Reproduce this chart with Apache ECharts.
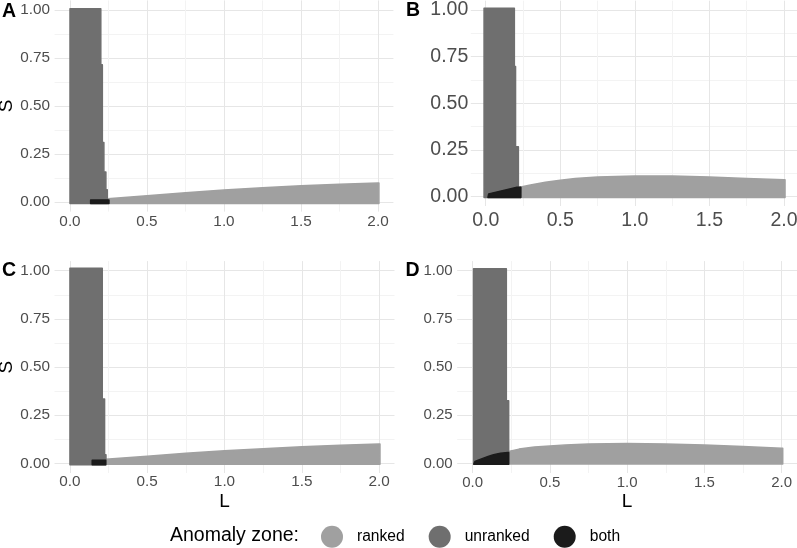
<!DOCTYPE html>
<html>
<head>
<meta charset="utf-8">
<script src="https://cdn.jsdelivr.net/npm/echarts@6/dist/echarts.min.js"></script>
<style>
  html, body { margin: 0; padding: 0; background: #ffffff; }
  #chart { width: 797px; height: 548px; }
</style>
</head>
<body>
<div id="chart"></div>
<script>
// ---- tick values and labels ----
const xTickValues = [0, 0.5, 1, 1.5, 2];
const xTickLabels = ['0.0', '0.5', '1.0', '1.5', '2.0'];
const yTickValues = [0, 0.25, 0.5, 0.75, 1];
const yTickLabels = ['0.00', '0.25', '0.50', '0.75', '1.00'];
const xGridValues = [0, 0.25, 0.5, 0.75, 1, 1.25, 1.5, 1.75, 2];
const yGridValues = [0, 0.125, 0.25, 0.375, 0.5, 0.625, 0.75, 0.875, 1];

const zoneNames = ['ranked', 'unranked', 'both'];
const zoneColors = ['#a0a0a0', '#6f6f6f', '#1b1b1b'];

// ---- zone outlines [L, S] ----
// Panel A
const rankedA = [[0.245,-0.008],[0.245,0.017],[0.5,0.033],[0.75,0.048],[1.0,0.063],[1.25,0.074],[1.5,0.085],[1.75,0.092],[2.0,0.099],[2.006,0.099],[2.006,-0.008]];
const unrankedA = [[0.0,-0.008],[0.0,1.007],[0.20,1.007],[0.20,0.715],[0.21,0.715],[0.21,0.31],[0.22,0.31],[0.22,0.156],[0.233,0.156],[0.233,0.064],[0.242,0.064],[0.242,-0.008]];
const bothA = [[0.134,-0.008],[0.134,0.011],[0.253,0.011],[0.253,-0.008]];
// Panel B
const rankedB = [[0.235,-0.004],[0.235,0.052],[0.3,0.063],[0.4,0.077],[0.5,0.088],[0.6,0.097],[0.75,0.105],[1.0,0.111],[1.25,0.111],[1.5,0.105],[1.75,0.097],[2.0,0.09],[2.007,0.09],[2.007,-0.004]];
const unrankedB = [[-0.011,-0.004],[-0.011,1.009],[0.192,1.009],[0.192,0.697],[0.20,0.697],[0.20,0.268],[0.219,0.268],[0.219,0.05],[0.235,0.05],[0.235,-0.004]];
const bothB = [[0.015,-0.004],[0.02,0.015],[0.21,0.05],[0.235,0.05],[0.235,-0.004]];
// Panel C
const rankedC = [[0.231,-0.005],[0.231,0.022],[0.5,0.037],[0.75,0.052],[1.0,0.065],[1.25,0.076],[1.5,0.086],[1.75,0.094],[2.0,0.1],[2.006,0.1],[2.006,-0.005]];
const unrankedC = [[0.0,-0.007],[0.0,1.013],[0.209,1.013],[0.209,0.334],[0.224,0.334],[0.224,0.045],[0.233,0.045],[0.233,-0.007]];
const bothC = [[0.144,-0.007],[0.144,0.016],[0.231,0.016],[0.231,-0.007]];
// Panel D
const rankedD = [[0.233,-0.003],[0.233,0.062],[0.3,0.074],[0.4,0.085],[0.5,0.09],[0.6,0.096],[0.75,0.101],[1.0,0.103],[1.25,0.101],[1.5,0.095],[1.75,0.087],[2.0,0.078],[2.007,0.078],[2.007,-0.003]];
const unrankedD = [[0.006,-0.004],[0.006,1.01],[0.218,1.01],[0.218,0.325],[0.233,0.325],[0.233,-0.004]];
const bothD = [[0.008,-0.004],[0.015,0.01],[0.04,0.018],[0.07,0.027],[0.1,0.036],[0.135,0.045],[0.18,0.052],[0.228,0.057],[0.233,0.057],[0.233,-0.004]];

const panelZones = [
  [rankedA, unrankedA, bothA],
  [rankedB, unrankedB, bothB],
  [rankedC, unrankedC, bothC],
  [rankedD, unrankedD, bothD]
];

// ---- layout (pixels) ----
const panels = [
  { tag: 'A', left: 54.6,  top: 0.4,   width: 338.8, height: 211.2, font: 15.3, yMargin: 4.5, xMargin: 2.5, tagX: 2,   tagTop: 1.2, showS: true,  showL: false },
  { tag: 'B', left: 470.8, top: 0.7,   width: 328.1, height: 205.3, font: 19.5, yMargin: 2.5, xMargin: 5,   tagX: 406, tagTop: 1.0, showS: false, showL: false },
  { tag: 'C', left: 54.5,  top: 261.1, width: 340.0, height: 211.9, font: 15.3, yMargin: 4.5, xMargin: 1.5, tagX: 2,   tagTop: 260.4, showS: true,  showL: true },
  { tag: 'D', left: 457.2, top: 261.1, width: 339.9, height: 211.9, font: 15.0, yMargin: 4.5, xMargin: 2,   tagX: 405.5, tagTop: 260.4, showS: false, showL: true }
];

const FONT = '"Liberation Sans", Arial, Helvetica, sans-serif';

function labelFrom(values, labels) {
  return function (v) {
    const i = values.findIndex(t => Math.abs(t - v) < 1e-9);
    return i >= 0 ? labels[i] : '';
  };
}

const grids = [], xAxes = [], yAxes = [], series = [], graphics = [];

panels.forEach((p, i) => {
  grids.push({ left: p.left, top: p.top, width: p.width, height: p.height, containLabel: false, outerBoundsMode: 'none' });
  xAxes.push({
    type: 'value', gridIndex: i, min: -0.1, max: 2.1,
    name: p.showL ? 'L' : '', nameLocation: 'middle', nameGap: 19.5,
    nameTextStyle: { fontFamily: FONT, fontSize: 19, color: '#000000' },
    axisLine: { show: false },
    axisTick: { show: false, customValues: xGridValues },
    axisLabel: { customValues: xTickValues, formatter: labelFrom(xTickValues, xTickLabels), fontFamily: FONT, fontSize: p.font, color: '#4d4d4d', margin: p.xMargin },
    splitLine: { show: true, lineStyle: { color: ['#e6e6e6', '#f3f3f3'], width: 1 } }
  });
  yAxes.push({
    type: 'value', gridIndex: i, min: -0.05, max: 1.05,
    name: p.showS ? 'S' : '', nameLocation: 'middle', nameGap: 27, nameRotate: 90,
    nameTextStyle: { fontFamily: FONT, fontSize: 19, color: '#000000' },
    axisLine: { show: false },
    axisTick: { show: false, customValues: yGridValues },
    axisLabel: { customValues: yTickValues, formatter: labelFrom(yTickValues, yTickLabels), fontFamily: FONT, fontSize: p.font, color: '#4d4d4d', margin: p.yMargin },
    splitLine: { show: true, lineStyle: { color: ['#e6e6e6', '#f3f3f3'], width: 1 } }
  });
  panelZones[i].forEach((poly, z) => {
    const color = zoneColors[z];
    series.push({
      type: 'custom',
      name: zoneNames[z],
      xAxisIndex: i, yAxisIndex: i,
      itemStyle: { color: color },
      encode: { x: 0, y: 1 },
      data: poly,
      silent: true,
      clip: false,
      z: 2 + z,
      renderItem: function (params, api) {
        if (params.dataIndex !== 0) return null;
        const pts = poly.map(pt => api.coord(pt));
        return {
          type: 'polygon',
          shape: { points: pts },
          style: { fill: color, stroke: color, lineWidth: 1.5, lineJoin: 'round' }
        };
      }
    });
  });
  graphics.push({
    type: 'text', left: p.tagX, top: p.tagTop,
    style: { text: p.tag, fontFamily: FONT, fontSize: 19.5, fontWeight: 'bold', fill: '#000000' }
  });
});

graphics.push({
  type: 'text', left: 170, top: 525.5,
  style: { text: 'Anomaly zone:', fontFamily: FONT, fontSize: 19.5, fill: '#000000' }
});

const option = {
  animation: false,
  backgroundColor: '#ffffff',
  grid: grids,
  xAxis: xAxes,
  yAxis: yAxes,
  series: series,
  graphic: graphics,
  legend: {
    data: zoneNames.map(n => ({ name: n, icon: 'circle' })),
    left: 321, top: 525.7, padding: 0,
    itemWidth: 22, itemHeight: 22, itemGap: 24,
    selectedMode: false,
    textStyle: { fontFamily: FONT, fontSize: 15.6, color: '#000000', padding: [0, 0, 0, 9] }
  }
};

const chart = echarts.init(document.getElementById('chart'), null, { renderer: 'canvas' });
chart.setOption(option);
</script>
</body>
</html>
